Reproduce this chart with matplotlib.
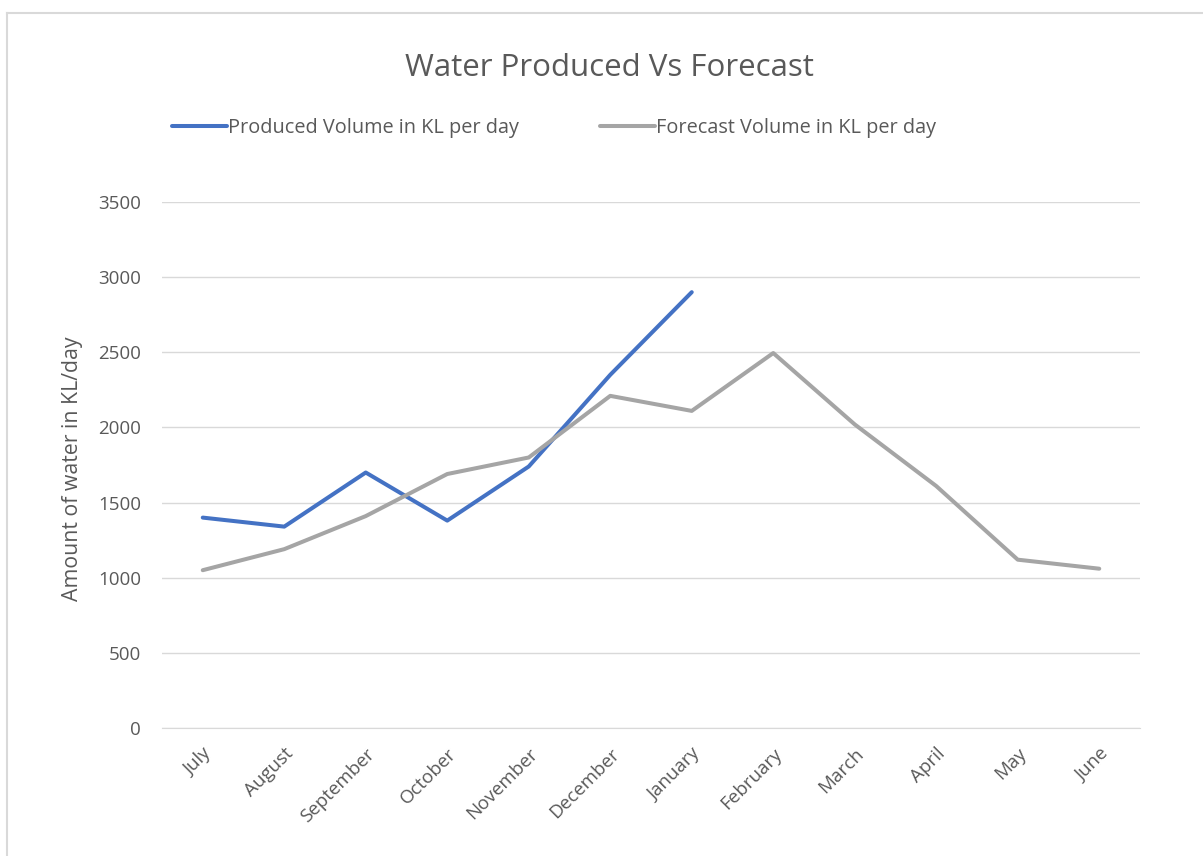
import matplotlib.pyplot as plt
from matplotlib.lines import Line2D

months = ['July', 'August', 'September', 'October', 'November', 'December',
          'January', 'February', 'March', 'April', 'May', 'June']
produced = [1400, 1340, 1700, 1380, 1740, 2350, 2900]
forecast = [1050, 1190, 1410, 1690, 1800, 2210, 2110, 2495, 2020, 1610, 1120, 1060]

plt.rcParams['font.family'] = ['Open Sans', 'DejaVu Sans']
txt = '#595959'

W, H = 1203, 856
fig = plt.figure(figsize=(W / 100, H / 100), dpi=100)
ax = fig.add_axes([162 / W, 1 - 728 / H, (1140 - 162) / W, (728 - 202) / H])

ax.plot(range(len(produced)), produced, color='#4472C4', lw=2.9,
        solid_capstyle='round', label='Produced Volume in KL per day')
ax.plot(range(len(forecast)), forecast, color='#A5A5A5', lw=2.9,
        solid_capstyle='round', label='Forecast Volume in KL per day')

ax.set_xlim(-0.5, len(months) - 0.5)
ax.set_ylim(0, 3500)
ax.set_yticks(range(0, 3501, 500))
ax.set_xticks(range(len(months)))
ax.set_xticklabels(months, rotation=45, ha='right', rotation_mode='anchor')
ax.tick_params(axis='both', length=0, labelsize=13.5, labelcolor=txt)
ax.tick_params(axis='y', pad=15)
ax.tick_params(axis='x', pad=12)
ax.grid(axis='y', color='#D9D9D9', lw=1)
ax.set_axisbelow(True)
for s in ['top', 'right', 'left']:
    ax.spines[s].set_visible(False)
ax.spines['bottom'].set_color('#D9D9D9')

fig.text(73 / W, 1 - 469 / H, 'Amount of water in KL/day', rotation=90,
         ha='center', va='center', fontsize=15.3, color=txt)
fig.text(609 / W, 1 - 68 / H, 'Water Produced Vs Forecast', ha='center',
         va='center', fontsize=22.5, color=txt)

fig.legend(loc='center left', bbox_to_anchor=(172 / W, 1 - 128 / H), ncol=2,
           frameon=False, fontsize=14.3, labelcolor=txt, handlelength=2.75,
           handletextpad=0.05, columnspacing=4.1, borderpad=0, borderaxespad=0)

# chart border
fig.add_artist(Line2D([7 / W, 7 / W], [0, 1 - 13 / H], color='#D9D9D9', lw=1.5))
fig.add_artist(Line2D([7 / W, 1], [1 - 13 / H, 1 - 13 / H], color='#D9D9D9', lw=1.5))

fig.savefig('out.png', dpi=100)
